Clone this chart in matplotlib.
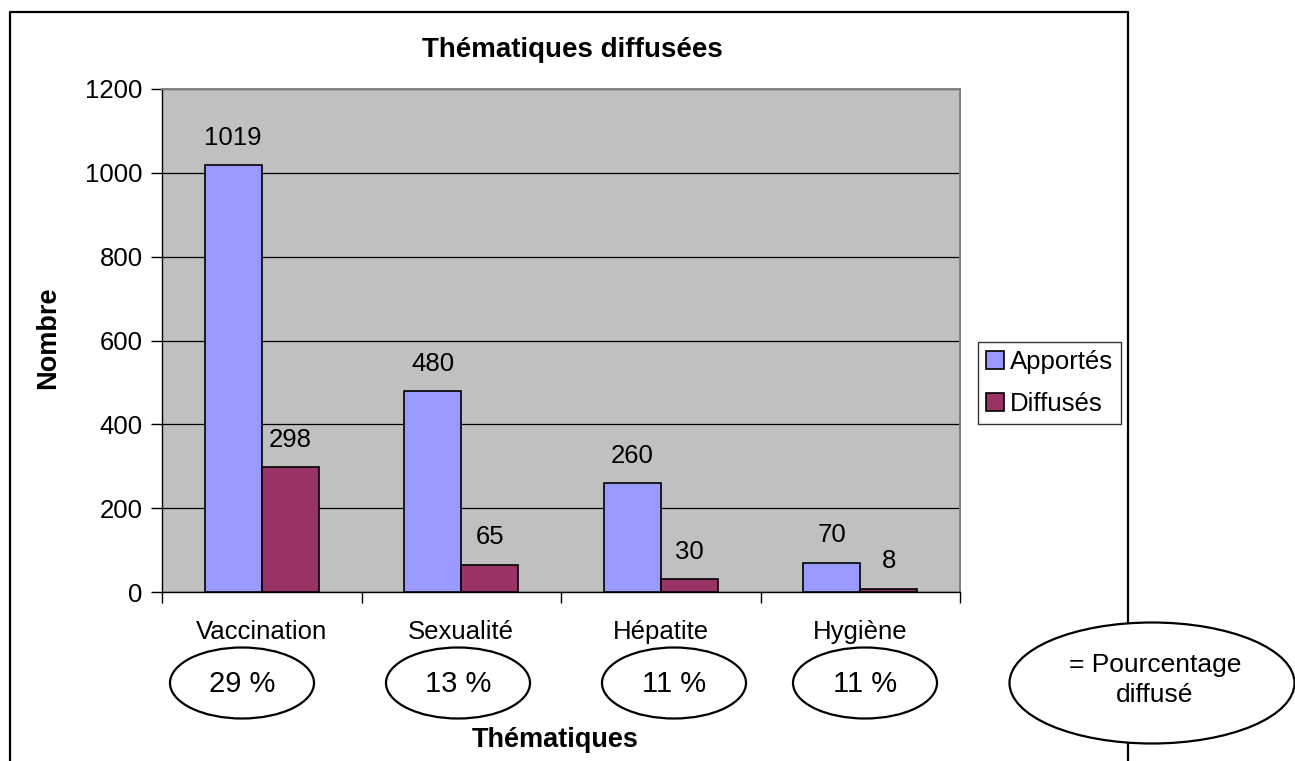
import matplotlib.pyplot as plt
import numpy as np
from matplotlib.patches import Ellipse

plt.rcParams['font.family'] = ['Liberation Sans', 'DejaVu Sans']

# data
categories = ['Vaccination', 'Sexualité', 'Hépatite', 'Hygiène']
apportes = [1019, 480, 260, 70]
diffuses = [298, 65, 30, 8]
series_names = ['Apportés', 'Diffusés']
yticks = [0, 200, 400, 600, 800, 1000, 1200]

col_a = '#9999FF'
col_d = '#993366'
W, H = 1295, 761
FS = 18.5

fig = plt.figure(figsize=(W / 100, H / 100), dpi=100)

# chart frame (drawn in pixel coords on a background axes)
bg = fig.add_axes([0, 0, 1, 1])
bg.set_xlim(0, W)
bg.set_ylim(H, 0)
bg.axis('off')
bg.plot([10, 10, 1128, 1128], [H + 5, 12, 12, H + 5], color='black', lw=1.6)

ax = fig.add_axes([162 / W, 1 - 592 / H, (960 - 162) / W, (592 - 89) / H])
ax.set_facecolor('#C0C0C0')

x = np.arange(len(categories))
w = 1 / 3.5
ax.bar(x - w / 2, apportes, w, color=col_a, edgecolor='black', lw=1.2,
       label=series_names[0], zorder=3)
ax.bar(x + w / 2, diffuses, w, color=col_d, edgecolor='black', lw=1.2,
       label=series_names[1], zorder=3)

for i in range(len(categories)):
    ax.annotate(str(apportes[i]), (x[i] - w / 2, apportes[i]), xytext=(0, 11),
                textcoords='offset points', ha='center', va='bottom', fontsize=FS)
    ax.annotate(str(diffuses[i]), (x[i] + w / 2, diffuses[i]), xytext=(0, 11),
                textcoords='offset points', ha='center', va='bottom', fontsize=FS)

ax.set_xlim(-0.5, len(categories) - 0.5)
ax.set_ylim(0, 1200)
ax.set_yticks(yticks)
ax.set_yticklabels([str(t) for t in yticks], fontsize=FS)
ax.yaxis.grid(True, color='black', lw=0.9, zorder=1)
ax.set_axisbelow(True)

ax.set_xticks(np.arange(len(categories) + 1) - 0.5)
ax.set_xticklabels([])
ax.tick_params(axis='both', direction='out', length=8, width=1, colors='black')
ax.tick_params(axis='y', pad=6)

for s in ['top', 'right']:
    ax.spines[s].set_color('#808080')
    ax.spines[s].set_linewidth(1.4)
for s in ['left', 'bottom']:
    ax.spines[s].set_color('black')
    ax.spines[s].set_linewidth(1.0)

# category labels
for i, c in enumerate(categories):
    bg.text(162 + (i + 0.5) * (960 - 162) / len(categories), 632, c,
            ha='center', va='center', fontsize=FS)

# percentage ellipses
pct = [int(100 * d / a) for a, d in zip(apportes, diffuses)]
ell_x = [242, 458, 674, 865]
for ex, p in zip(ell_x, pct):
    bg.add_patch(Ellipse((ex, 683), 144, 71, facecolor='white',
                         edgecolor='black', lw=1.6))
    bg.text(ex, 684, '%d %%' % p, ha='center', va='center', fontsize=21)

bg.add_patch(Ellipse((1152, 683), 285, 121, facecolor='white',
                     edgecolor='black', lw=1.6, zorder=5))
bg.text(1155, 680, '= Pourcentage\ndiffusé', ha='center', va='center',
        fontsize=19, linespacing=1.3, zorder=6)

# titles
bg.text(572, 50, 'Thématiques diffusées', ha='center', va='center',
        fontsize=20, fontweight='bold')
bg.text(555, 740, 'Thématiques', ha='center', va='center',
        fontsize=19.5, fontweight='bold')
bg.text(48, 338, 'Nombre', ha='center', va='center', rotation=90,
        fontsize=19.5, fontweight='bold')

# legend
leg = ax.legend(loc='upper left', bbox_to_anchor=(978 / W, 1 - 342 / H),
                bbox_transform=fig.transFigure, fontsize=FS, frameon=True,
                fancybox=False, edgecolor='black', handlelength=0.7,
                handleheight=0.7, handletextpad=0.25, borderpad=0.3,
                labelspacing=0.73, borderaxespad=0)
leg.get_frame().set_linewidth(1.0)

fig.savefig('out.png', dpi=100)
